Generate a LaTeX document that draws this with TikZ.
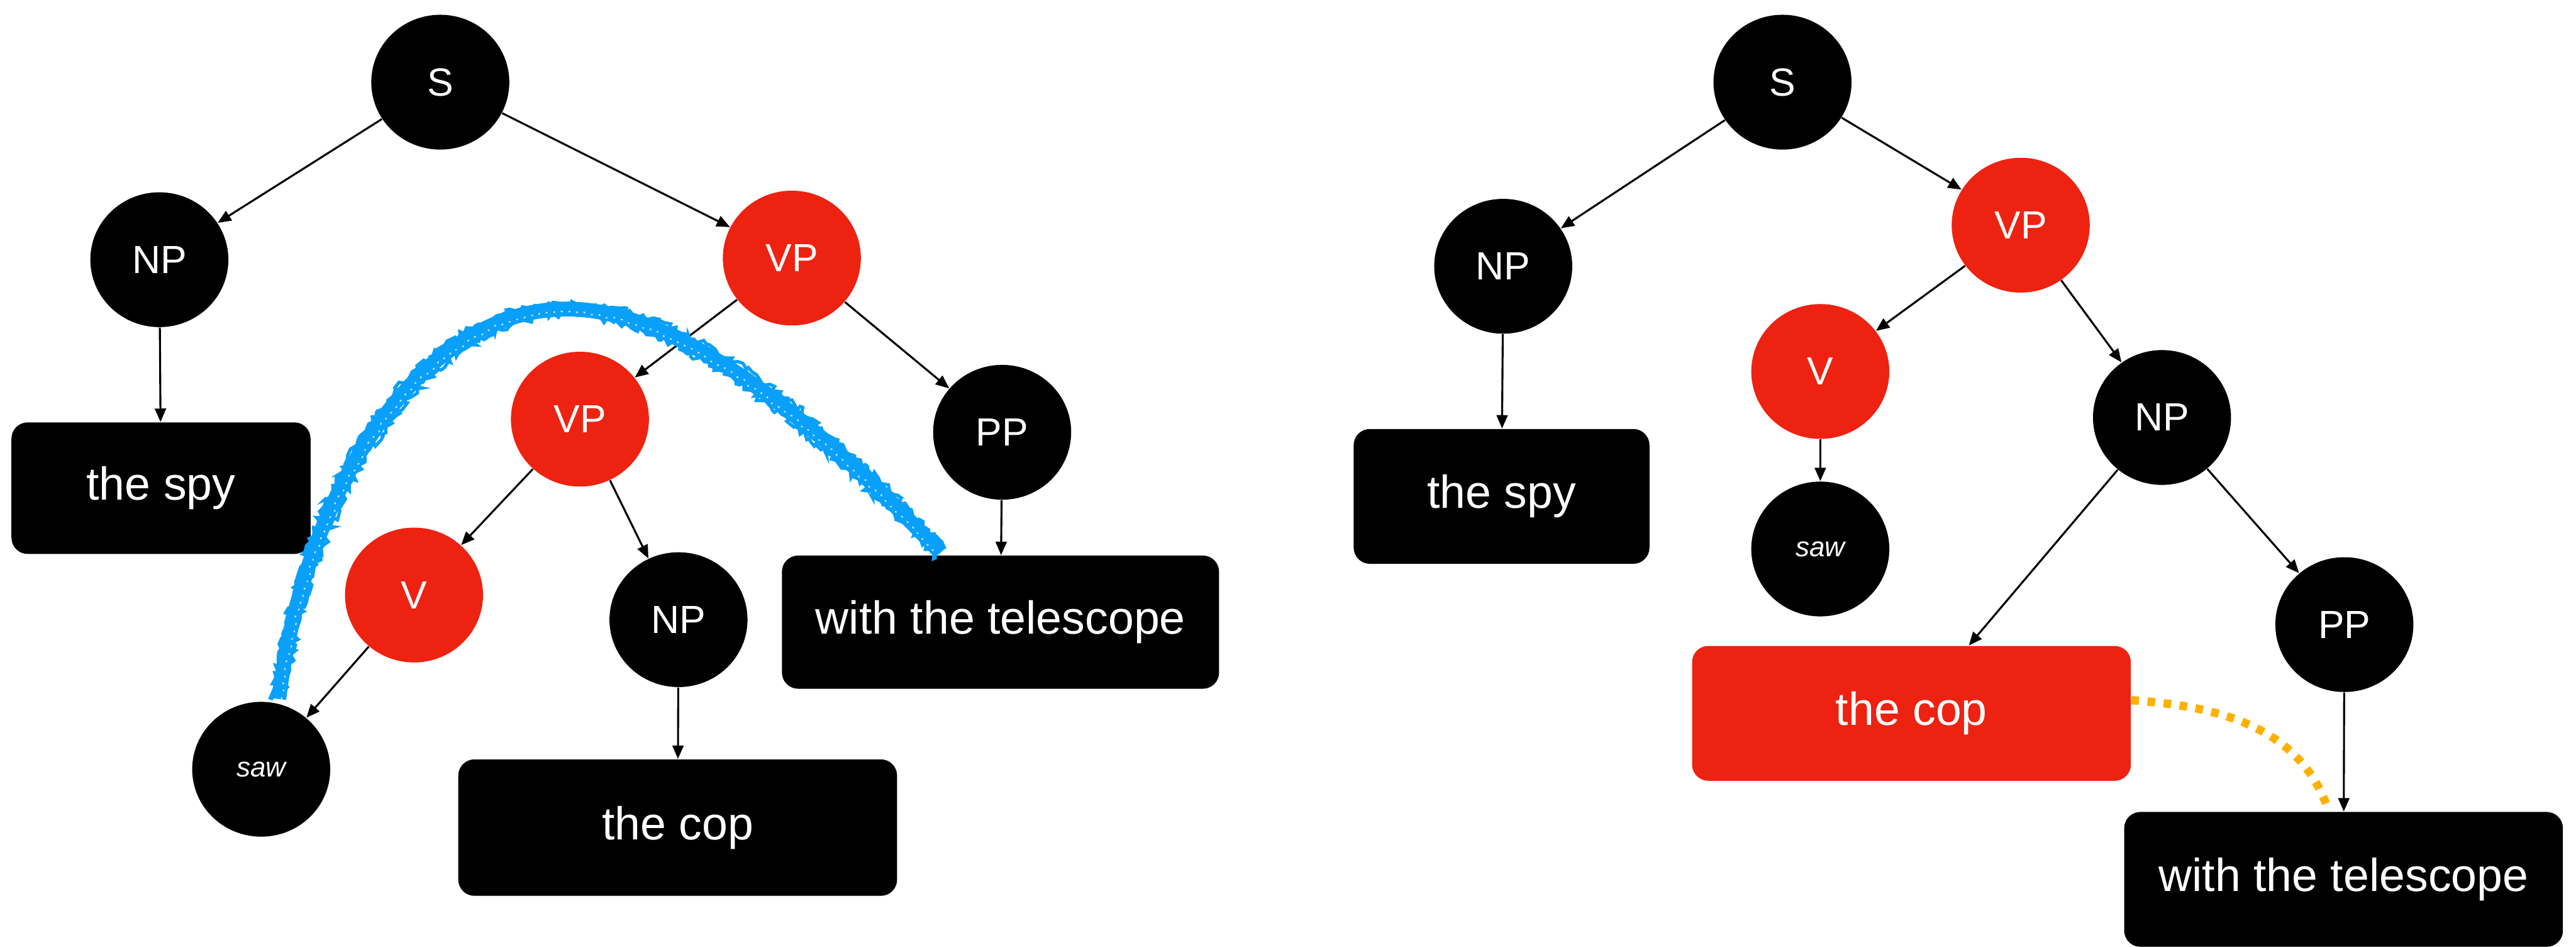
\documentclass[tikz,border=0pt]{standalone}
\usepackage{fontspec}
\setmainfont{Liberation Sans}
\usetikzlibrary{shapes.geometric,arrows.meta,decorations.pathmorphing}
\definecolor{nodered}{RGB}{238,34,17}
\definecolor{arcblue}{RGB}{8,160,250}
\definecolor{linkorange}{RGB}{255,176,0}
\begin{document}
\begin{tikzpicture}[x=0.025cm,y=-0.025cm,
  phrase/.style={ellipse,fill=black,text=white,inner sep=0pt,
    minimum width=2.1cm,minimum height=2.05cm,font=\fontsize{17}{20}\selectfont},
  hot/.style={fill=nodered},
  wordbox/.style={rectangle,rounded corners=7pt,fill=black,text=white,inner sep=0pt,
    font=\fontsize{20}{24}\selectfont},
  wordtext/.style={font=\fontsize{12}{14}\selectfont\itshape},
  edge/.style={-{Triangle[length=5.8pt,width=4.8pt]},line width=0.85pt},
  crayon/.style={draw=arcblue,line width=6.4pt},
  crayonedge/.style={draw=arcblue,line width=1.4pt,
    decorate,decoration={random steps,segment length=1.5pt,amplitude=1.4pt}},
  crayongrain/.style={draw=white,line width=0.6pt,opacity=0.75,
    dash pattern=on 0.8pt off 2.6pt,
    decorate,decoration={random steps,segment length=2pt,amplitude=0.7pt}},
  linkdots/.style={draw=linkorange,line width=3.6pt,dash pattern=on 3.3pt off 3.7pt},
]
\useasboundingbox (0,0) rectangle (1568,576);

% ---------- left tree: PP attached to the verb phrase ----------
\node[phrase] (lS) at (268,50) {S};
\node[phrase] (lNP) at (97,158) {NP};
\node[phrase,hot] (lVP) at (482,157) {VP};
\node[phrase,hot] (lVPb) at (353,255) {VP};
\node[phrase] (lPP) at (610,263) {PP};
\node[phrase,hot] (lV) at (252,362) {V};
\node[phrase] (lNPb) at (413,377) {NP};
\node[phrase,wordtext] (lsaw) at (159,468) {saw};
\node[wordbox,minimum width=4.55cm,minimum height=2.0cm] (lspy) at (98,297) {the spy};
\node[wordbox,minimum width=6.65cm,minimum height=2.025cm] (ltel) at (609,378.5) {with the telescope};
\node[wordbox,minimum width=6.675cm,minimum height=2.075cm] (lcop) at (412.5,503.5) {the cop};

\draw[edge] (lS) -- (lNP);
\draw[edge] (lS) -- (lVP);
\draw[edge] (lNP) -- (lspy);
\draw[edge] (lVP) -- (lVPb);
\draw[edge] (lVP) -- (lPP);
\draw[edge] (lVPb) -- (lV);
\draw[edge] (lVPb) -- (lNPb);
\draw[edge] (lV) -- (lsaw);
\draw[edge] (lNPb) -- (lcop);
\draw[edge] (lPP) -- (ltel);

% crayon arc from the verb over to the prepositional phrase
\coordinate (arcstart) at ([yshift=2pt]lsaw.75);
\coordinate (arcpeak) at (345,188);
\coordinate (arcend) at ([xshift=-26pt,yshift=1pt]ltel.north);
\path[crayon] (arcstart) .. controls (185,300) and (255,188) .. (arcpeak)
  .. controls (420,188) and (510,270) .. (arcend);
\path[crayonedge] ([xshift=-2.4pt]arcstart) .. controls (181,298) and (252,183) .. ([yshift=2.4pt]arcpeak)
  .. controls (423,183) and (514,266) .. ([xshift=1.8pt,yshift=1.8pt]arcend);
\path[crayonedge] ([xshift=2.4pt]arcstart) .. controls (190,302) and (259,193) .. ([yshift=-2.4pt]arcpeak)
  .. controls (417,193) and (506,274) .. ([xshift=-1.8pt,yshift=-1.8pt]arcend);
\path[crayongrain] ([xshift=1.2pt]arcstart) .. controls (187,301) and (256,190) .. ([yshift=-1.4pt]arcpeak)
  .. controls (419,190) and (509,271) .. ([xshift=-1pt,yshift=-1pt]arcend);

% ---------- right tree: PP attached to the noun phrase ----------
\node[phrase] (rS) at (1085,50) {S};
\node[phrase] (rNP) at (915,162) {NP};
\node[phrase,hot] (rVP) at (1230,137) {VP};
\node[phrase,hot] (rV) at (1108,226) {V};
\node[phrase] (rNPb) at (1316,254) {NP};
\node[phrase,wordtext] (rsaw) at (1108,334) {saw};
\node[phrase] (rPP) at (1427,380) {PP};
\node[wordbox,minimum width=4.5cm,minimum height=2.05cm] (rspy) at (914,302) {the spy};
\node[wordbox,hot,minimum width=6.675cm,minimum height=2.05cm] (rcop) at (1163.5,434) {the cop};
\node[wordbox,minimum width=6.675cm,minimum height=2.05cm] (rtel) at (1426.5,535) {with the telescope};

\draw[edge] (rS) -- (rNP);
\draw[edge] (rS) -- (rVP);
\draw[edge] (rNP) -- (rspy);
\draw[edge] (rVP) -- (rV);
\draw[edge] (rVP) -- (rNPb);
\draw[edge] (rV) -- (rsaw);
\draw[edge] (rNPb) -- (rcop);
\draw[edge] (rNPb) -- (rPP);
\draw[edge] (rPP) -- (rtel);

% dotted link between the noun and its modifier
\draw[linkdots] ([yshift=5.7pt]rcop.east) to[out=-4,in=108] ([xshift=-6.4pt]rtel.north);
\end{tikzpicture}
\end{document}
